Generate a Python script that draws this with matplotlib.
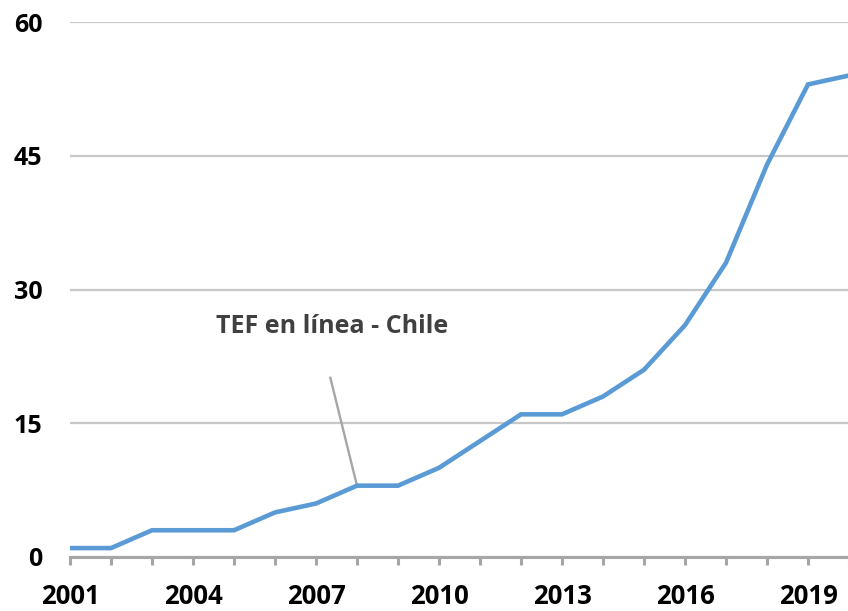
import matplotlib

matplotlib.use("Agg")
import matplotlib.pyplot as plt

years = list(range(2001, 2021))
tef_online = [1, 1, 3, 3, 3, 5, 6, 8, 8, 10, 13, 16, 16, 18, 21, 26, 33, 44, 53, 54]
y_ticks = [0, 15, 30, 45, 60]
label_years = list(range(2001, 2021, 3))

plt.rcParams["font.family"] = ["Open Sans", "DejaVu Sans"]

figure = plt.figure(figsize=(8.48, 6.11), dpi=100)
axis = figure.add_axes([70 / 848, 1 - 557 / 611, 779 / 848, (557 - 22) / 611])

axis.plot(years, tef_online, color="#5B9BD5", linewidth=3.3, solid_joinstyle="miter", zorder=3)

axis.set_xlim(2001, 2020)
axis.set_ylim(0, 60)
axis.set_yticks(y_ticks)
axis.set_yticklabels([str(v) for v in y_ticks], fontsize=18, fontweight="bold")
axis.tick_params(axis="y", length=0, pad=20)
axis.grid(axis="y", color="#c8c8c8", linewidth=1.6, zorder=1)

axis.set_xticks(years)
axis.set_xticklabels([str(y) if y in label_years else "" for y in years],
                     fontsize=18.5, fontweight="bold")
axis.tick_params(axis="x", direction="out", length=6, width=2.2, color="#a6a6a6", pad=13)

for side in ("left", "right", "top"):
    axis.spines[side].set_visible(False)
axis.spines["bottom"].set_color("#a6a6a6")
axis.spines["bottom"].set_linewidth(2.2)
axis.spines["bottom"].set_zorder(4)

# series label with a leader line down to the 2008 point
axis.text(2007.4, 25.9, "TEF en línea - Chile", ha="center", va="center",
          fontsize=18, fontweight="bold", color="#404040")
axis.plot([2007.35, 2008], [20.1, tef_online[7]], color="#a6a6a6", linewidth=1.7, zorder=2)

figure.savefig("out.png", dpi=100)
plt.close(figure)
